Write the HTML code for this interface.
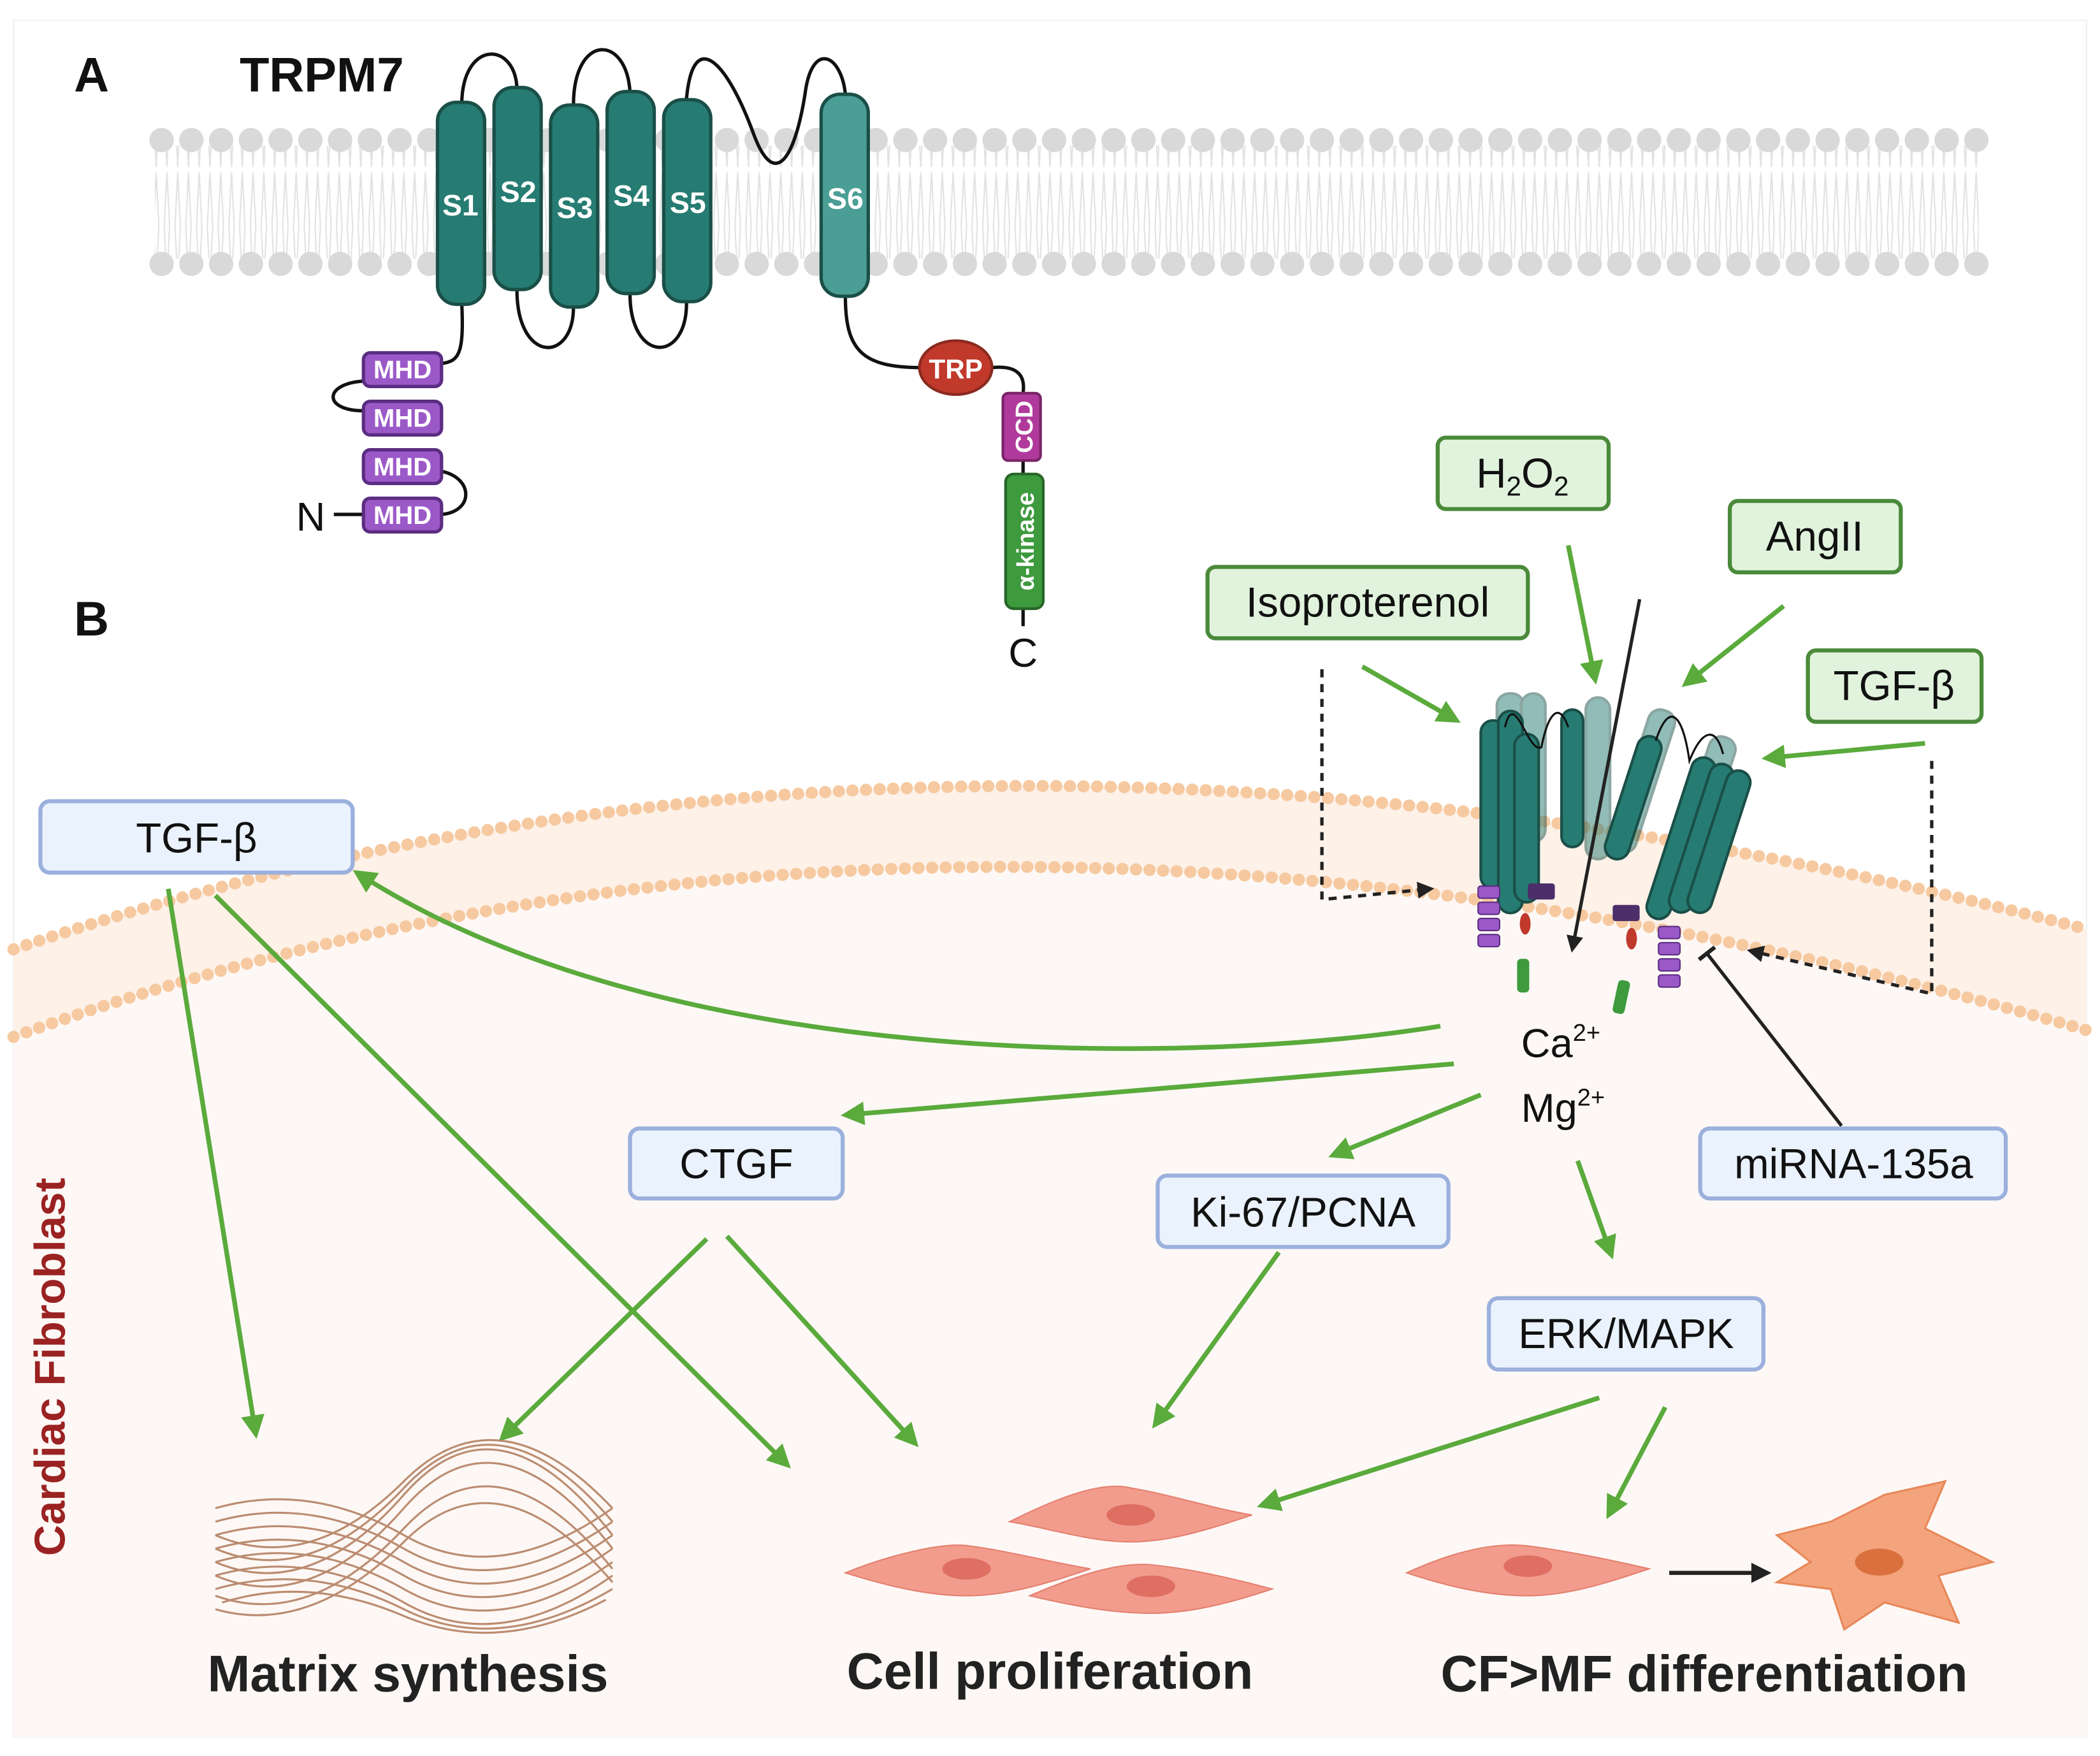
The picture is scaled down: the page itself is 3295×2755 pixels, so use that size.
<!DOCTYPE html>
<html><head><meta charset="utf-8"><style>
html,body{margin:0;padding:0;background:#fff}
svg{display:block}
text{font-family:"Liberation Sans","DejaVu Sans",sans-serif}
</style></head><body>
<svg width="3295" height="2755" viewBox="0 0 1560 1304" preserveAspectRatio="none" xmlns="http://www.w3.org/2000/svg">
<defs>
<marker id="ga" viewBox="0 0 10 10" refX="8" refY="5" markerWidth="5" markerHeight="5" orient="auto"><path d="M0,0L10,5L0,10z" fill="#5aaa3c"/></marker>
<marker id="ba" viewBox="0 0 10 10" refX="8" refY="5" markerWidth="5" markerHeight="5" orient="auto"><path d="M0,0L10,5L0,10z" fill="#222"/></marker>
<marker id="tb" viewBox="0 0 10 10" refX="5" refY="5" markerWidth="6" markerHeight="6" orient="auto"><path d="M5,0L5,10" stroke="#222" stroke-width="2"/></marker>
<pattern id="tails" width="8" height="84" patternUnits="userSpaceOnUse">
<path d="M2,0 L4,40 M6,0 L4,40 M2,84 L4,44 M6,84 L4,44" stroke="#e2e2e2" stroke-width="1" fill="none"/>
</pattern>
</defs>
<rect x="10" y="15" width="1540" height="1275" fill="#fff" stroke="#f0f0f0"/>
<!-- cell interior -->
<path d="M10,770 Q700,520 1550,765 L1550,1290 L10,1290 Z" fill="#fdf8f5"/>
<!-- cell membrane band -->
<path d="M10,705 Q700,470 1550,690 L1550,765 Q700,520 10,770 Z" fill="#fdf1e8"/>
<path d="M10,705 Q700,470 1550,690" fill="none" stroke="#f6c9a0" stroke-width="9" stroke-dasharray="0.1 10" stroke-linecap="round"/>
<path d="M10,770 Q700,520 1550,765" fill="none" stroke="#f6c9a0" stroke-width="9" stroke-dasharray="0.1 10" stroke-linecap="round"/>
<!-- part A membrane -->
<rect x="115" y="108" width="1355" height="84" fill="url(#tails)"/>
<line x1="120" y1="104" x2="1470" y2="104" stroke="#d9d9d9" stroke-width="18" stroke-dasharray="0.1 22" stroke-linecap="round"/>
<line x1="120" y1="196" x2="1470" y2="196" stroke="#d9d9d9" stroke-width="18" stroke-dasharray="0.1 22" stroke-linecap="round"/>
<text x="55" y="68" font-size="36" font-weight="bold" fill="#111">A</text>
<text x="178" y="68" font-size="36" font-weight="bold" fill="#111">TRPM7</text>
<text x="55" y="472" font-size="36" font-weight="bold" fill="#111">B</text>
<!-- loops -->
<g fill="none" stroke="#111" stroke-width="2.5">
<path d="M343,78 C343,30 382,30 384,65"/>
<path d="M426,78 C426,25 465,25 468,68"/>
<path d="M510,73 C515,20 540,45 560,100 C575,140 590,120 598,70 C603,30 625,40 628,70"/>
<path d="M384,215 C384,270 426,270 426,228"/>
<path d="M468,218 C468,270 510,270 510,225"/>
<path d="M343,225 C345,265 340,268 328,270"/>
<path d="M270,283 C240,285 240,305 270,305"/>
<path d="M328,350 C352,355 352,380 328,382"/>
<path d="M628,220 C628,260 640,273 685,273"/>
<path d="M737,273 C765,270 760,290 760,292"/>
<line x1="760" y1="342" x2="760" y2="352"/>
<line x1="760" y1="452" x2="760" y2="465"/>
<line x1="248" y1="382" x2="270" y2="382"/>
</g>
<!-- helices -->
<g stroke="#1a4f48" stroke-width="2.5" fill="#267c72">
<rect x="325" y="76" width="35" height="150" rx="14"/>
<rect x="367" y="65" width="35" height="150" rx="14"/>
<rect x="409" y="78" width="35" height="150" rx="14"/>
<rect x="451" y="68" width="35" height="150" rx="14"/>
<rect x="493" y="74" width="35" height="150" rx="14"/>
<rect x="610" y="70" width="35" height="150" rx="14" fill="#4a9e95"/>
</g>
<g fill="#fff" font-size="22" font-weight="bold" text-anchor="middle">
<text x="342" y="160">S1</text><text x="385" y="150">S2</text><text x="427" y="162">S3</text>
<text x="469" y="153">S4</text><text x="511" y="158">S5</text><text x="628" y="155">S6</text>
</g>
<g fill="#9b59c8" stroke="#5b2d82" stroke-width="2.5">
<rect x="270" y="262" width="58" height="25" rx="5"/>
<rect x="270" y="298" width="58" height="25" rx="5"/>
<rect x="270" y="334" width="58" height="25" rx="5"/>
<rect x="270" y="370" width="58" height="25" rx="5"/>
</g>
<g fill="#fff" font-size="19" font-weight="bold" text-anchor="middle">
<text x="299" y="281">MHD</text><text x="299" y="317">MHD</text><text x="299" y="353">MHD</text><text x="299" y="389">MHD</text>
</g>
<text x="220" y="394" font-size="30" fill="#111">N</text>
<ellipse cx="710" cy="273" rx="27" ry="20" fill="#c0392b" stroke="#8a2a20" stroke-width="2"/>
<text x="710" y="281" font-size="20" font-weight="bold" fill="#fff" text-anchor="middle">TRP</text>
<rect x="745" y="292" width="28" height="50" rx="4" fill="#b03a9b" stroke="#7a2468" stroke-width="2"/>
<text transform="translate(767,317) rotate(-90)" font-size="18" font-weight="bold" fill="#fff" text-anchor="middle">CCD</text>
<rect x="747" y="352" width="28" height="100" rx="6" fill="#3d9a3d" stroke="#276627" stroke-width="2"/>
<text transform="translate(768,402) rotate(-90)" font-size="18" font-weight="bold" fill="#fff" text-anchor="middle">α-kinase</text>
<text x="760" y="495" font-size="30" fill="#111" text-anchor="middle">C</text>
<!-- channel B -->
<g stroke="#1a4f48" stroke-width="2" fill="#267c72">
<g opacity="0.5"><rect x="1112" y="515" width="20" height="130" rx="9"/><rect x="1130" y="515" width="18" height="110" rx="9"/><rect x="1178" y="518" width="18" height="120" rx="9"/>
<rect x="1210" y="525" width="20" height="110" rx="9" transform="rotate(18 1220 580)"/><rect x="1255" y="545" width="20" height="110" rx="9" transform="rotate(18 1265 600)"/></g>
<rect x="1100" y="535" width="18" height="125" rx="9"/><rect x="1113" y="528" width="18" height="150" rx="9"/><rect x="1125" y="545" width="18" height="125" rx="9"/>
<rect x="1160" y="527" width="16" height="102" rx="8"/>
<rect x="1205" y="545" width="18" height="95" rx="9" transform="rotate(18 1214 590)"/>
<rect x="1240" y="560" width="18" height="125" rx="9" transform="rotate(18 1249 622)"/>
<rect x="1255" y="565" width="18" height="115" rx="9" transform="rotate(18 1264 622)"/>
<rect x="1268" y="570" width="18" height="110" rx="9" transform="rotate(18 1277 625)"/>
</g>
<path d="M1118,540 C1125,510 1135,560 1145,555 C1150,530 1158,520 1165,540" fill="none" stroke="#111" stroke-width="1.5"/>
<path d="M1230,550 C1240,520 1250,530 1255,565 C1265,540 1275,540 1280,560" fill="none" stroke="#111" stroke-width="1.5"/>
<g fill="#9b59c8" stroke="#5b2d82" stroke-width="1">
<rect x="1098" y="658" width="16" height="9" rx="2"/><rect x="1098" y="670" width="16" height="9" rx="2"/><rect x="1098" y="682" width="16" height="9" rx="2"/><rect x="1098" y="694" width="16" height="9" rx="2"/>
<rect x="1232" y="688" width="16" height="9" rx="2"/><rect x="1232" y="700" width="16" height="9" rx="2"/><rect x="1232" y="712" width="16" height="9" rx="2"/><rect x="1232" y="724" width="16" height="9" rx="2"/>
</g>
<rect x="1135" y="656" width="20" height="12" rx="2" fill="#4b2e6a"/><rect x="1198" y="672" width="20" height="12" rx="2" fill="#4b2e6a"/>
<ellipse cx="1133" cy="686" rx="4" ry="8" fill="#c0392b"/><ellipse cx="1212" cy="697" rx="4" ry="8" fill="#c0392b"/>
<rect x="1127" y="712" width="9" height="25" rx="3" fill="#3d9a3d"/><rect x="1200" y="728" width="9" height="25" rx="3" fill="#3d9a3d" transform="rotate(12 1205 740)"/>
<!-- green input boxes -->
<g fill="#e1f3dc" stroke="#4a8a3a" stroke-width="3">
<rect x="1068" y="325" width="127" height="53" rx="6"/>
<rect x="1285" y="372" width="127" height="53" rx="6"/>
<rect x="897" y="421" width="238" height="53" rx="6"/>
<rect x="1343" y="483" width="129" height="53" rx="6"/>
</g>
<g font-size="31" fill="#111" text-anchor="middle">
<text x="1131" y="362">H<tspan font-size="20" dy="6">2</tspan><tspan dy="-6">O</tspan><tspan font-size="20" dy="6">2</tspan></text>
<text x="1348" y="409">AngII</text>
<text x="1016" y="458">Isoproterenol</text>
<text x="1407" y="520">TGF-β</text>
</g>
<!-- blue boxes -->
<g fill="#eaf2fd" stroke="#9bb0dd" stroke-width="3">
<rect x="30" y="595" width="232" height="53" rx="7"/>
<rect x="468" y="838" width="158" height="52" rx="7"/>
<rect x="860" y="873" width="216" height="53" rx="7"/>
<rect x="1106" y="964" width="204" height="53" rx="7"/>
<rect x="1263" y="838" width="227" height="52" rx="7"/>
</g>
<g font-size="31" fill="#111" text-anchor="middle">
<text x="146" y="633">TGF-β</text>
<text x="547" y="875">CTGF</text>
<text x="968" y="911">Ki-67/PCNA</text>
<text x="1208" y="1001">ERK/MAPK</text>
<text x="1377" y="875">miRNA-135a</text>
</g>
<text x="1130" y="785" font-size="30" fill="#111">Ca<tspan font-size="18" dy="-12">2+</tspan></text>
<text x="1130" y="833" font-size="30" fill="#111">Mg<tspan font-size="18" dy="-12">2+</tspan></text>
<!-- arrows -->
<g stroke="#5aaa3c" stroke-width="3.5" fill="none" marker-end="url(#ga)">
<line x1="1012" y1="495" x2="1082" y2="535"/>
<line x1="1165" y1="405" x2="1185" y2="505"/>
<line x1="1325" y1="450" x2="1252" y2="508"/>
<line x1="1430" y1="552" x2="1312" y2="563"/>
<path d="M1070,762 C900,790 500,800 265,648"/>
<line x1="1080" y1="790" x2="628" y2="828"/>
<line x1="1100" y1="813" x2="990" y2="858"/>
<line x1="1172" y1="862" x2="1197" y2="932"/>
<line x1="125" y1="660" x2="190" y2="1065"/>
<line x1="160" y1="665" x2="585" y2="1088"/>
<line x1="525" y1="920" x2="373" y2="1068"/>
<line x1="540" y1="918" x2="680" y2="1072"/>
<line x1="950" y1="930" x2="858" y2="1058"/>
<line x1="1188" y1="1038" x2="937" y2="1118"/>
<line x1="1237" y1="1045" x2="1195" y2="1125"/>
</g>
<g stroke="#222" stroke-width="2.5" fill="none">
<path d="M982,497 L982,668 L1063,660" stroke-dasharray="6 5" marker-end="url(#ba)"/>
<path d="M1435,565 L1435,738 L1300,706" stroke-dasharray="6 5" marker-end="url(#ba)"/>
<line x1="1218" y1="445" x2="1168" y2="705" marker-end="url(#ba)"/>
<line x1="1368" y1="836" x2="1268" y2="708" marker-end="url(#tb)"/>
<line x1="1240" y1="1168" x2="1313" y2="1168" marker-end="url(#ba)" stroke-width="3"/>
</g>
<!-- matrix -->
<g fill="none" stroke="#b07a5a" stroke-width="1.5" opacity="0.85">
<path d="M160,1120 Q230,1100 300,1140 T455,1120"/><path d="M160,1130 Q230,1110 300,1150 T455,1130"/>
<path d="M160,1140 Q230,1120 300,1160 T455,1140"/><path d="M160,1150 Q230,1130 300,1170 T455,1150"/>
<path d="M160,1160 Q230,1140 300,1180 T455,1160"/><path d="M160,1170 Q230,1150 300,1190 T455,1170"/>
<path d="M160,1180 Q230,1160 300,1195 T455,1180"/><path d="M165,1190 Q230,1170 300,1200 T450,1188"/>
<path d="M160,1170 Q230,1200 300,1120 T455,1150"/><path d="M160,1160 Q230,1190 300,1110 T455,1140"/>
<path d="M160,1150 Q230,1180 300,1105 T455,1130"/><path d="M160,1185 Q230,1210 300,1135 T455,1165"/>
<path d="M160,1140 Q230,1170 300,1100 T455,1120"/><path d="M160,1195 Q230,1215 300,1145 T455,1175"/>
</g>
<!-- cells -->
<g fill="#f29c8d" stroke="#e57f70" stroke-width="1">
<path d="M750,1130 C790,1110 820,1100 840,1105 C870,1110 900,1120 930,1125 C900,1135 870,1145 840,1145 C810,1145 780,1135 750,1130Z"/>
<path d="M628,1168 C660,1155 700,1145 720,1148 C750,1152 780,1160 810,1165 C780,1175 750,1185 718,1185 C690,1185 660,1178 628,1168Z"/>
<path d="M765,1185 C800,1170 830,1160 855,1162 C885,1165 915,1172 945,1180 C915,1190 885,1198 855,1198 C825,1198 795,1192 765,1185Z"/>
<path d="M1045,1168 C1080,1152 1110,1145 1135,1148 C1165,1152 1195,1158 1225,1165 C1195,1175 1165,1185 1135,1185 C1105,1185 1075,1178 1045,1168Z"/>
</g>
<g fill="#de6f62"><ellipse cx="840" cy="1125" rx="18" ry="8"/><ellipse cx="718" cy="1165" rx="18" ry="8"/><ellipse cx="855" cy="1178" rx="18" ry="8"/><ellipse cx="1135" cy="1163" rx="18" ry="8"/></g>
<path d="M1320,1140 L1360,1130 L1400,1110 L1445,1100 L1430,1135 L1480,1160 L1440,1170 L1455,1205 L1400,1190 L1370,1210 L1360,1180 L1320,1175 L1345,1160 Z" fill="#f4a47c" stroke="#e8875a" stroke-width="1.5"/>
<ellipse cx="1396" cy="1160" rx="18" ry="10" fill="#d9703e"/>
<!-- labels -->
<g font-size="38" font-weight="bold" fill="#222" text-anchor="middle">
<text x="303" y="1256">Matrix synthesis</text>
<text x="780" y="1254">Cell proliferation</text>
<text x="1266" y="1256">CF&gt;MF differentiation</text>
</g>
<text transform="translate(48,1015) rotate(-90)" font-size="32" font-weight="bold" fill="#9b2222" text-anchor="middle">Cardiac Fibroblast</text>
</svg>
</body></html>
